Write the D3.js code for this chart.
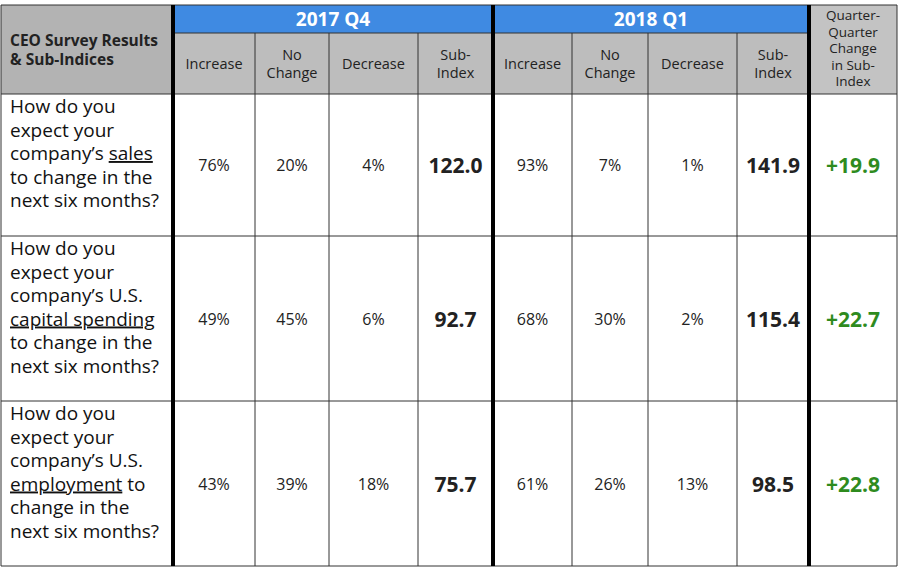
<!DOCTYPE html>
<html><head><meta charset="utf-8">
<script src="https://cdn.jsdelivr.net/npm/d3@7"></script>
<style>body{margin:0;background:#fff;font-family:"Open Sans",sans-serif;}</style>
</head><body><div id="container"></div>
<script>
const quarters = ["2017 Q4", "2018 Q1"];
const subHeads = [["Increase"], ["No", "Change"], ["Decrease"], ["Sub-", "Index"]];
const changeHead = ["Quarter-", "Quarter", "Change", "in Sub-", "Index"];
const titleHead = ["CEO Survey Results", "& Sub-Indices"];
const questions = [
  [["How do you"], ["expect your"], ["company’s ", "sales"], ["to change in the"], ["next six months?"]],
  [["How do you"], ["expect your"], ["company’s U.S."], ["", "capital spending"], ["to change in the"], ["next six months?"]],
  [["How do you"], ["expect your"], ["company’s U.S."], ["", "employment", " to"], ["change in the"], ["next six months?"]]
];
const q4Values = [["76%", "20%", "4%", "122.0"], ["49%", "45%", "6%", "92.7"], ["43%", "39%", "18%", "75.7"]];
const q1Values = [["93%", "7%", "1%", "141.9"], ["68%", "30%", "2%", "115.4"], ["61%", "26%", "13%", "98.5"]];
const changes = ["+19.9", "+22.7", "+22.8"];

const w = 900, h = 575;
const colEdges = [1, 173, 255, 329, 418, 493, 572, 648, 737, 809, 897];
const rowEdges = [5, 33, 94, 236, 401, 566];
const x = d3.scaleLinear().domain([0, 10]).range([0, 10]);
const cx = i => colEdges[x(i)];
const svg = d3.select("#container").append("svg").attr("width", w).attr("height", h);

svg.append("rect").attr("x", cx(0)).attr("y", rowEdges[0]).attr("width", cx(1) - cx(0)).attr("height", rowEdges[2] - rowEdges[0]).attr("fill", "#b3b3b3");
svg.append("rect").attr("x", cx(9)).attr("y", rowEdges[0]).attr("width", cx(10) - cx(9)).attr("height", rowEdges[2] - rowEdges[0]).attr("fill", "#c3c3c3");
quarters.forEach((q, k) => {
  const a = cx(1 + k * 4), b = cx(5 + k * 4);
  svg.append("rect").attr("x", a).attr("y", rowEdges[0]).attr("width", b - a).attr("height", rowEdges[1] - rowEdges[0]).attr("fill", "#3f8ae2");
  svg.append("rect").attr("x", a).attr("y", rowEdges[1]).attr("width", b - a).attr("height", rowEdges[2] - rowEdges[1]).attr("fill", "#bdbdbd");
  svg.append("text").attr("x", (a + b) / 2).attr("y", rowEdges[1] - 7).attr("text-anchor", "middle")
    .attr("fill", "#fff").attr("font-size", 19).attr("font-weight", "bold").text(q);
  subHeads.forEach((lines, j) => {
    const mx = (cx(1 + k * 4 + j) + cx(2 + k * 4 + j)) / 2;
    const my = (rowEdges[1] + rowEdges[2]) / 2;
    lines.forEach((l, li) => svg.append("text").attr("x", mx).attr("y", my + 5 + (li - (lines.length - 1) / 2) * 18)
      .attr("text-anchor", "middle").attr("font-size", 14.5).attr("fill", "#222").text(l));
  });
});
titleHead.forEach((l, li) => svg.append("text").attr("x", cx(0) + 9).attr("y", 46 + li * 19)
  .attr("font-size", 15.5).attr("font-weight", "bold").attr("fill", "#222").text(l));
changeHead.forEach((l, li) => svg.append("text").attr("x", (cx(9) + cx(10)) / 2).attr("y", 20 + li * 16.5)
  .attr("text-anchor", "middle").attr("font-size", 13.5).attr("fill", "#222").text(l));

questions.forEach((q, r) => {
  const top = rowEdges[r + 2], bot = rowEdges[r + 3], my = (top + bot) / 2;
  q.forEach((parts, li) => {
    const t = svg.append("text").attr("x", cx(0) + 9).attr("y", top + 19 + li * 23.5).attr("font-size", 19).attr("fill", "#111");
    parts.forEach((p, pi) => t.append("tspan").attr("text-decoration", pi === 1 ? "underline" : null).text(p));
  });
  [q4Values[r], q1Values[r]].forEach((vals, k) => vals.forEach((v, j) => {
    const mx = (cx(1 + k * 4 + j) + cx(2 + k * 4 + j)) / 2;
    svg.append("text").attr("x", mx).attr("y", my + (j === 3 ? 8 : 6)).attr("text-anchor", "middle")
      .attr("font-size", j === 3 ? 21 : 16).attr("font-weight", j === 3 ? "bold" : null).attr("fill", "#222").text(v);
  }));
  svg.append("text").attr("x", (cx(9) + cx(10)) / 2).attr("y", my + 8).attr("text-anchor", "middle")
    .attr("font-size", 21).attr("font-weight", "bold").attr("fill", "#2e8b1e").text(changes[r]);
});

const g = svg.append("g").attr("stroke", "#333");
rowEdges.forEach((y, i) => {
  const x1 = i === 1 ? cx(1) : cx(0), x2 = i === 1 ? cx(9) : cx(10);
  g.append("line").attr("x1", x1).attr("x2", x2).attr("y1", y).attr("y2", y).attr("stroke-width", i === 1 ? 1.2 : 1);
});
colEdges.forEach((xv, i) => {
  const thick = i === 1 || i === 5 || i === 9;
  const y1 = (i === 0 || i === 10 || thick) ? rowEdges[0] : rowEdges[1];
  g.append("line").attr("x1", xv).attr("x2", xv).attr("y1", y1).attr("y2", rowEdges[5])
    .attr("stroke", thick ? "#000" : "#333").attr("stroke-width", thick ? 4 : 1);
});
</script></body></html>
